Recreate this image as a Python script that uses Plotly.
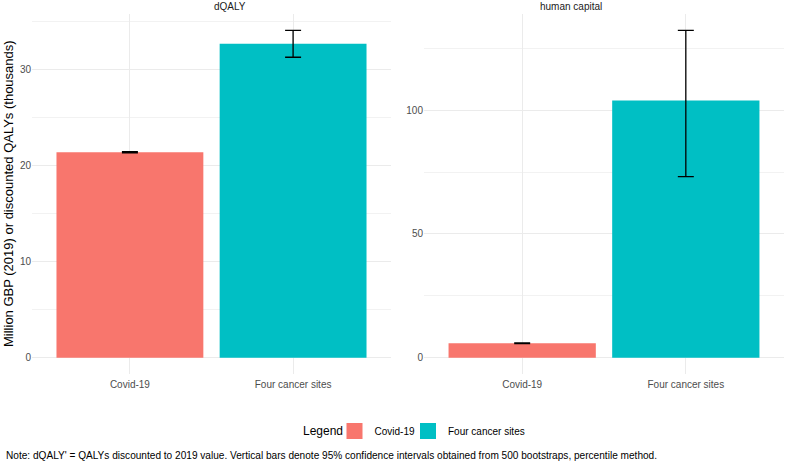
import plotly.graph_objects as go

categories = ["Covid-19", "Four cancer sites"]
colors = ["#F8766D", "#00BFC4"]

dqaly = [21.4, 32.7]
dqaly_lo = [21.33, 31.3]
dqaly_hi = [21.47, 34.1]

hc = [5.8, 103.9]
hc_lo = [5.65, 73.2]
hc_hi = [5.95, 132.3]

panel_titles = ["dQALY", "human capital"]
left_ticks = [0, 10, 20, 30]
right_ticks = [0, 50, 100]
y_title = "Million GBP (2019) or discounted QALYs (thousands)"
legend_title = "Legend"
note = ("Note: dQALY' = QALYs discounted to 2019 value. Vertical bars denote 95% confidence "
        "intervals obtained from 500 bootstraps, percentile method.")

W, H = 789, 464
FONT = "Liberation Sans, Arial, sans-serif"

def px_x(p):
    return p / W

def px_y(p):
    return 1 - p / H

fig = go.Figure()

def add_panel(vals, lo, hi, xa, ya):
    fig.add_trace(go.Bar(
        x=categories, y=vals, xaxis=xa, yaxis=ya,
        marker=dict(color=colors, line=dict(width=0)),
        width=0.9, showlegend=False,
        error_y=dict(type="data", symmetric=False,
                     array=[h - v for h, v in zip(hi, vals)],
                     arrayminus=[v - l for v, l in zip(vals, lo)],
                     color="black", thickness=1.3, width=8),
    ))

add_panel(dqaly, dqaly_lo, dqaly_hi, "x", "y")
add_panel(hc, hc_lo, hc_hi, "x2", "y2")

legend_ids = ["legend", "legend2"]
for c, col, lid in zip(categories, colors, legend_ids):
    fig.add_trace(go.Scatter(x=[None], y=[None], mode="markers", name=c, legend=lid,
                             marker=dict(symbol="square", size=16, color=col)))

ydom = [px_y(374), px_y(14)]
grid = "#EBEBEB"
common_x = dict(showgrid=True, gridcolor=grid, gridwidth=1, zeroline=False,
                showline=False, ticks="", range=[-0.6, 1.6], type="category",
                automargin=False, ticklabelstandoff=3,
                tickfont=dict(family=FONT, size=10, color="#4D4D4D"))
common_y = dict(showgrid=True, gridcolor=grid, gridwidth=1, zeroline=False,
                showline=False, ticks="", automargin=False,
                tickfont=dict(family=FONT, size=10, color="#4D4D4D"))

legend_common = dict(orientation="h", xanchor="left", y=px_y(431), yanchor="middle",
                     font=dict(family=FONT, size=10, color="black"),
                     itemwidth=30, bgcolor="rgba(0,0,0,0)")

fig.update_layout(
    width=W, height=H,
    margin=dict(l=0, r=0, t=0, b=0, autoexpand=False),
    paper_bgcolor="white", plot_bgcolor="white",
    bargap=0.1,
    xaxis=dict(domain=[px_x(32), px_x(391)], anchor="y", **common_x),
    xaxis2=dict(domain=[px_x(424), px_x(784)], anchor="y2", **common_x),
    yaxis=dict(domain=ydom, anchor="x", range=[-1.705, 35.805],
               tickvals=left_ticks,
               minor=dict(tickvals=[5, 15, 25, 35], showgrid=True, gridcolor="#F2F2F2", gridwidth=0.7),
               **common_y),
    yaxis2=dict(domain=ydom, anchor="x2", range=[-6.615, 138.9],
                tickvals=right_ticks,
                minor=dict(tickvals=[25, 75, 125], showgrid=True, gridcolor="#F2F2F2", gridwidth=0.7),
                **common_y),
    legend=dict(x=px_x(334.5), **legend_common),
    legend2=dict(x=px_x(408), **legend_common),
    font=dict(family=FONT),
)

annotations = [
    dict(text=panel_titles[0], x=(px_x(32) + px_x(391)) / 2, y=px_y(7), xref="paper", yref="paper",
         showarrow=False, font=dict(family=FONT, size=10, color="#1A1A1A"), yanchor="middle"),
    dict(text=panel_titles[1], x=(px_x(424) + px_x(784)) / 2, y=px_y(7), xref="paper", yref="paper",
         showarrow=False, font=dict(family=FONT, size=10, color="#1A1A1A"), yanchor="middle"),
    dict(text=y_title, x=px_x(8), y=px_y(194), xref="paper", yref="paper", textangle=-90,
         showarrow=False, font=dict(family=FONT, size=13, color="black"),
         xanchor="center", yanchor="middle"),
    dict(text=legend_title, x=px_x(301), y=px_y(431), xref="paper", yref="paper",
         showarrow=False, font=dict(family=FONT, size=12, color="black"),
         xanchor="left", yanchor="middle"),
    dict(text=note, x=px_x(4), y=px_y(455), xref="paper", yref="paper",
         showarrow=False, font=dict(family=FONT, size=10.1, color="black"),
         xanchor="left", yanchor="middle"),
]
fig.update_layout(annotations=annotations)

fig.write_html("out.html", config={"displayModeBar": False},
               post_script="document.body.style.margin='0';document.body.style.padding='0';")
